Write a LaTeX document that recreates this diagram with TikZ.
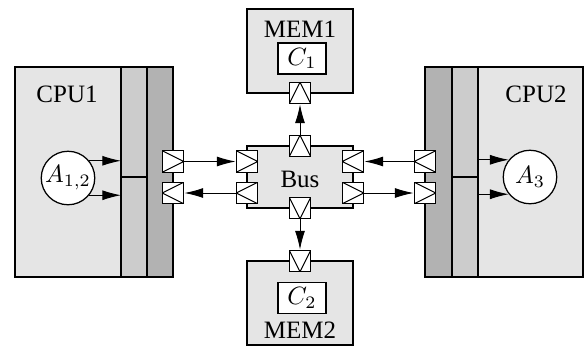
\documentclass[tikz,border=0pt]{standalone}
\usepackage{fontspec}
\setmainfont{Liberation Serif}
\usetikzlibrary{arrows.meta}
\tikzset{
  box/.style={draw, line width=0.5pt},
  port/.style={draw, fill=white, minimum size=8.6pt, inner sep=0pt, line width=0.5pt},
  portR/.style={port, path picture={\draw[line width=0.4pt] (path picture bounding box.north west) -- (path picture bounding box.east) -- (path picture bounding box.south west);}},
  portL/.style={port, path picture={\draw[line width=0.4pt] (path picture bounding box.north east) -- (path picture bounding box.west) -- (path picture bounding box.south east);}},
  portU/.style={port, path picture={\draw[line width=0.4pt] (path picture bounding box.south west) -- (path picture bounding box.north) -- (path picture bounding box.south east);}},
  portD/.style={port, path picture={\draw[line width=0.4pt] (path picture bounding box.north west) -- (path picture bounding box.south) -- (path picture bounding box.north east);}},
  arr/.style={line width=0.4pt, -{Latex[length=7.5pt,width=4pt]}},
  lab/.style={inner sep=0pt},
  agent/.style={circle, draw, fill=white, minimum size=21.4pt, inner sep=0pt, line width=0.5pt},
  cbox/.style={draw, fill=white, minimum width=19.2pt, minimum height=12.4pt, inner sep=0pt, line width=0.5pt}
}
\begin{document}
\begin{tikzpicture}[x=0.4pt,y=-0.4pt]
\useasboundingbox (0,0) rectangle (584,347);
% CPU1
\draw[box, fill=gray!20] (15,67) rectangle (121,277);
\draw[box, fill=gray!40] (121,67) rectangle (147,277);
\draw[box, fill=gray!60] (147,67) rectangle (173,277);
\draw[box] (121,177) -- (147,177);
% CPU2
\draw[box, fill=gray!60] (425,67) rectangle (452,277);
\draw[box, fill=gray!40] (452,67) rectangle (478,277);
\draw[box, fill=gray!20] (478,67) rectangle (583,277);
\draw[box] (452,177) -- (478,177);
% MEM boxes and bus
\draw[box, fill=gray!20] (247,9) rectangle (353,93);
\draw[box, fill=gray!20] (247,261) rectangle (353,345);
\draw[box, fill=gray!20] (247,146) rectangle (353,208);
% labels
\node[lab] (cpu1) at (67,94) {CPU1};
\node[lab] (cpu2) at (536,94) {CPU2};
\node[lab] (mem1) at (300,29.5) {MEM1};
\node[lab] (mem2) at (300,330) {MEM2};
\node[lab] (bus) at (300,179) {Bus};
\node[cbox] (c1) at (302,58.5) {$C_1$};
\node[cbox] (c2) at (302,298) {$C_2$};
\node[agent] (a12) at (68,178) {$A_{1,2}$};
\node[agent] (a3) at (530,177) {$A_3$};
% ports
\node[portR] (c1o) at (173,161.5) {};
\node[portL] (c1i) at (173,193) {};
\node[portR] (bli) at (247,161.5) {};
\node[portL] (blo) at (247,193) {};
\node[portL] (bri) at (353,161.5) {};
\node[portR] (bro) at (353,193) {};
\node[portL] (c2o) at (425,161.5) {};
\node[portR] (c2i) at (425,193) {};
\node[portU] (bt) at (300,146) {};
\node[portD] (bb) at (300,208) {};
\node[portU] (m1) at (300,93) {};
\node[portD] (m2) at (300,261) {};
% connectors
\coordinate (s1) at (121,0);
\coordinate (s2) at (478,0);
\draw[arr] (a12.39) -- (a12.39 -| s1);
\draw[arr] (a12.-39) -- (a12.-39 -| s1);
\draw[arr] (a3.141 -| s2) -- (a3.141);
\draw[arr] (a3.-141 -| s2) -- (a3.-141);
\draw[arr] (c1o.east) -- (bli.west);
\draw[arr] (blo.west) -- (c1i.east);
\draw[arr] (c2o.west) -- (bri.east);
\draw[arr] (bro.east) -- (c2i.west);
\draw[arr] (bt.north) -- (m1.south);
\draw[arr] (bb.south) -- (m2.north);
\end{tikzpicture}
\end{document}
